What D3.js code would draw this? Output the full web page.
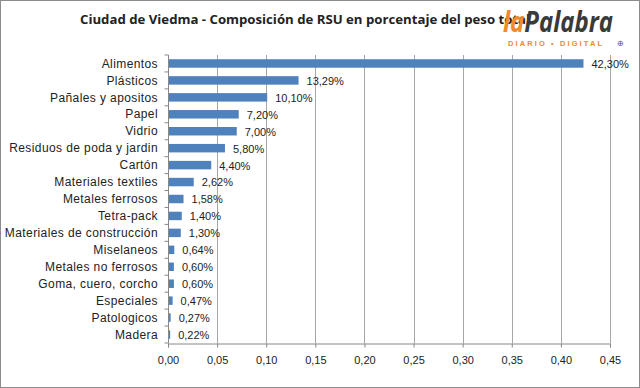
<!DOCTYPE html>
<html>
<head>
<meta charset="utf-8">
<script src="https://cdn.jsdelivr.net/npm/d3@7"></script>
<style>
  body { margin: 0; background: #fff; }
  svg text { font-family: "Liberation Sans", Arial, sans-serif; fill: #222; }
</style>
</head>
<body>
<div id="chart"></div>
<script>
var categories = ["Alimentos", "Plásticos", "Pañales y apositos", "Papel", "Vidrio",
  "Residuos de poda y jardin", "Cartón", "Materiales textiles", "Metales ferrosos",
  "Tetra-pack", "Materiales de construcción", "Miselaneos", "Metales no ferrosos",
  "Goma, cuero, corcho", "Especiales", "Patologicos", "Madera"];
var values = [0.4230, 0.1329, 0.1010, 0.0720, 0.0700, 0.0580, 0.0440, 0.0262, 0.0158,
  0.0140, 0.0130, 0.0064, 0.0060, 0.0060, 0.0047, 0.0027, 0.0022];
var xTicks = [0, 0.05, 0.10, 0.15, 0.20, 0.25, 0.30, 0.35, 0.40, 0.45];

var W = 640, H = 388;
var margin = {top: 55, right: 30, bottom: 45, left: 168};

var data = categories.map(function (c, i) { return {name: c, value: values[i]}; });

var comma = function (v, digits) { return v.toFixed(digits).replace(".", ","); };

var svg = d3.select("#chart")
  .append("svg")
    .attr("width", W)
    .attr("height", H);

svg.append("rect")
  .attr("x", 0.5).attr("y", 0.5)
  .attr("width", W - 1).attr("height", H - 1)
  .attr("fill", "#fff")
  .attr("stroke", "#8c8c8c");

var x = d3.scaleLinear()
  .domain([0, 0.45])
  .range([margin.left, 610]);

var y = d3.scaleBand()
  .domain(categories)
  .range([margin.top, 343])
  .paddingInner(0.5)
  .paddingOuter(0.25);

// grid
svg.append("g")
  .selectAll("line")
  .data(xTicks.slice(1))
  .enter()
  .append("line")
    .attr("x1", function (d) { return Math.round(x(d)) + 0.5; })
    .attr("x2", function (d) { return Math.round(x(d)) + 0.5; })
    .attr("y1", margin.top)
    .attr("y2", 343)
    .attr("stroke", "#a6a6a6");

// x axis
var xAxis = svg.append("g")
  .attr("transform", "translate(0,343.5)")
  .call(d3.axisBottom(x).tickValues(xTicks).tickSize(4).tickPadding(9)
    .tickFormat(function (d) { return comma(d, 2); }));
xAxis.select(".domain").attr("stroke", "#888");
xAxis.selectAll(".tick line").attr("stroke", "#888");
xAxis.selectAll("text").attr("font-size", 11).attr("fill", "#333");

// y axis
var yAxis = svg.append("g")
  .attr("transform", "translate(168.5,0)");
yAxis.append("line")
  .attr("y1", margin.top).attr("y2", 343)
  .attr("stroke", "#888");
yAxis.selectAll(".ytick")
  .data(d3.range(categories.length + 1))
  .enter()
  .append("line")
    .attr("x1", -4).attr("x2", 0)
    .attr("y1", function (i) { return margin.top + (343 - margin.top) * i / categories.length; })
    .attr("y2", function (i) { return margin.top + (343 - margin.top) * i / categories.length; })
    .attr("stroke", "#888");

svg.append("g")
  .selectAll("text")
  .data(data)
  .enter()
  .append("text")
    .attr("x", 158)
    .attr("y", function (d) { return y(d.name) + y.bandwidth() / 2; })
    .attr("dy", "0.35em")
    .attr("text-anchor", "end")
    .attr("font-size", 12)
    .attr("letter-spacing", 0.4)
    .text(function (d) { return d.name; });

// bars
svg.append("g")
  .selectAll("rect")
  .data(data)
  .enter()
  .append("rect")
    .attr("x", x(0) + 1)
    .attr("y", function (d) { return y(d.name); })
    .attr("width", function (d) { return Math.max(x(d.value) - x(0) - 1, 1); })
    .attr("height", y.bandwidth())
    .attr("fill", "#4f81bd");

svg.append("g")
  .selectAll("text")
  .data(data)
  .enter()
  .append("text")
    .attr("x", function (d) { return x(d.value) + 8; })
    .attr("y", function (d) { return y(d.name) + y.bandwidth() / 2; })
    .attr("dy", "0.4em")
    .attr("font-size", 11)
    .attr("fill", "#333")
    .text(function (d) { return comma(d.value * 100, 2) + "%"; });

// title
svg.append("text")
  .attr("x", 80)
  .attr("y", 24)
  .attr("font-size", 13.2)
  .attr("font-weight", "bold")
  .style("font-family", "'Open Sans', sans-serif")
  .text("Ciudad de Viedma - Composición de RSU en porcentaje del peso total");

// logo
var logo = svg.append("g");
var lt = logo.append("text")
  .attr("x", 503)
  .attr("y", 32)
  .attr("font-size", 28)
  .attr("font-weight", "bold")
  .attr("font-style", "italic")
  .attr("textLength", 110)
  .attr("lengthAdjust", "spacingAndGlyphs")
  .style("font-family", "'Open Sans', sans-serif");
lt.append("tspan").style("fill", "#f08a2a").text("la");
lt.append("tspan").style("fill", "#3a3a3a").text("Palabra");
logo.append("text")
  .attr("x", 508)
  .attr("y", 46)
  .attr("font-size", 7.5)
  .attr("font-weight", "bold")
  .attr("letter-spacing", 2.1)
  .style("fill", "#f08a2a")
  .text("DIARIO • DIGITAL");
logo.append("text")
  .attr("x", 617)
  .attr("y", 46)
  .attr("font-size", 8)
  .style("fill", "#555")
  .text("⊕");
</script>
</body>
</html>
